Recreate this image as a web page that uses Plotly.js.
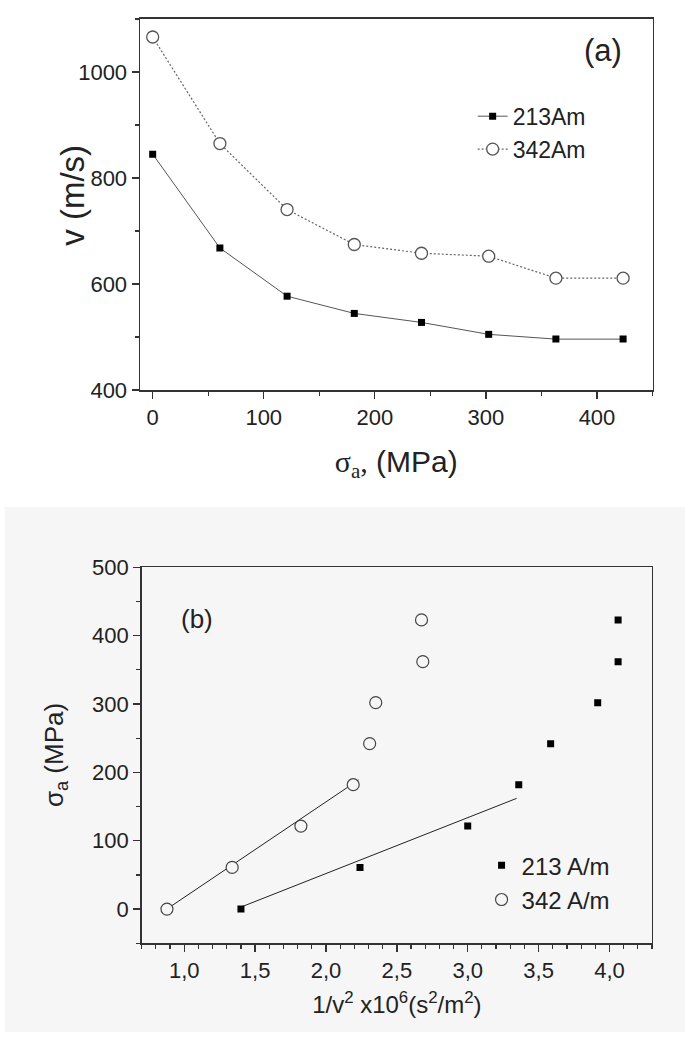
<!DOCTYPE html>
<html>
<head>
<meta charset="utf-8">
<script src="https://cdn.plot.ly/plotly-3.0.1.min.js"></script>
<style>
  html, body { margin: 0; padding: 0; background: #ffffff; }
  #chart { width: 685px; height: 1041px; }
</style>
</head>
<body>
<div id="chart"></div>
<script>
// ---------- Panel (a): velocity vs applied stress ----------
const stressA = [0, 60.5, 121, 181.5, 242, 302.5, 363, 423.5];
const v213 = [845, 668, 577, 544.5, 527.5, 505, 496, 496];
const v342 = [1066, 865, 740.5, 674.5, 658, 652.5, 611, 611];
const seriesNamesA = ['213Am', '342Am'];

// ---------- Panel (b): stress vs 1/v^2 ----------
const stressB = [0, 61, 121.5, 182, 242, 302, 362, 423];
const invV2_213 = [1.40, 2.24, 3.00, 3.36, 3.585, 3.917, 4.061, 4.061];
const invV2_342 = [0.878, 1.338, 1.823, 2.192, 2.308, 2.351, 2.683, 2.674];
const fit213X = [1.40, 3.345];
const fit213Y = [3, 162];
const fit342X = [0.88, 2.23];
const fit342Y = [0.5, 189];
const seriesNamesB = ['213 A/m', '342 A/m'];
const tickValsB = [1.0, 1.5, 2.0, 2.5, 3.0, 3.5, 4.0];
const tickTextB = ['1,0', '1,5', '2,0', '2,5', '3,0', '3,5', '4,0'];

const FONT = 'Arial, "Liberation Sans", Helvetica, sans-serif';
const SERIF = 'Liberation Serif, Times New Roman, serif';
const TXT = '#222222';
const AX = '#333333';
const PANEL_B_BG = '#f6f6f6';

const traces = [
  {
    x: stressA, y: v213, xaxis: 'x', yaxis: 'y', name: seriesNamesA[0],
    mode: 'lines+markers', legend: 'legend',
    line: { color: '#555555', width: 1 },
    marker: { symbol: 'square', size: 7, color: '#000000' }
  },
  {
    x: stressA, y: v342, xaxis: 'x', yaxis: 'y', name: seriesNamesA[1],
    mode: 'lines+markers', legend: 'legend',
    line: { color: '#666666', width: 1.2, dash: '2px,2px' },
    marker: { symbol: 'circle', size: 12, color: '#ffffff', line: { color: '#555555', width: 1.3 } }
  },
  {
    x: fit213X, y: fit213Y, xaxis: 'x2', yaxis: 'y2', mode: 'lines', showlegend: false,
    line: { color: '#222222', width: 1 }, hoverinfo: 'skip'
  },
  {
    x: fit342X, y: fit342Y, xaxis: 'x2', yaxis: 'y2', mode: 'lines', showlegend: false,
    line: { color: '#222222', width: 1 }, hoverinfo: 'skip'
  },
  {
    x: invV2_213, y: stressB, xaxis: 'x2', yaxis: 'y2', name: seriesNamesB[0],
    mode: 'markers', legend: 'legend2',
    marker: { symbol: 'square', size: 7, color: '#000000' }
  },
  {
    x: invV2_342, y: stressB, xaxis: 'x2', yaxis: 'y2', name: seriesNamesB[1],
    mode: 'markers', legend: 'legend2',
    marker: { symbol: 'circle', size: 12, color: PANEL_B_BG, line: { color: '#444444', width: 1.2 } }
  }
];

function axisBase() {
  return {
    showline: true, linecolor: AX, linewidth: 1.5, mirror: true,
    showgrid: false, zeroline: false,
    ticks: 'outside', ticklen: 7, tickwidth: 1.3, tickcolor: AX,
    tickfont: { family: FONT, size: 22, color: TXT }
  };
}

const layout = {
  width: 685, height: 1041,
  margin: { l: 0, r: 0, t: 0, b: 0 },
  paper_bgcolor: '#ffffff',
  plot_bgcolor: 'rgba(0,0,0,0)',
  font: { family: FONT, color: TXT },
  showlegend: true,
  xaxis: Object.assign(axisBase(), {
    domain: [0.2044, 0.9526], range: [-11.4, 450], anchor: 'y',
    tickmode: 'linear', tick0: 0, dtick: 100,
    minor: { tick0: 0, dtick: 50, ticks: 'outside', ticklen: 4, tickwidth: 1.2, tickcolor: AX },
    title: {
      text: '<span style="font-family:' + SERIF + '">σ<sub>a</sub>,</span> (MPa)',
      font: { family: FONT, size: 30, color: TXT }, standoff: 22
    }
  }),
  yaxis: Object.assign(axisBase(), {
    domain: [0.62536, 0.98175], range: [400, 1100], anchor: 'x',
    tickmode: 'linear', tick0: 400, dtick: 200,
    minor: { tick0: 400, dtick: 100, ticks: 'outside', ticklen: 4, tickwidth: 1.2, tickcolor: AX },
    title: { text: '' }
  }),
  xaxis2: Object.assign(axisBase(), {
    domain: [0.2069, 0.9518], range: [0.7, 4.3], anchor: 'y2',
    tickmode: 'array', tickvals: tickValsB, ticktext: tickTextB,
    minor: { tick0: 0.7, dtick: 0.1, ticks: 'outside', ticklen: 4, tickwidth: 1.2, tickcolor: AX },
    title: {
      text: '1/v<sup>2</sup> x10<sup>6</sup>(s<sup>2</sup>/m<sup>2</sup>)',
      font: { family: FONT, size: 24, color: TXT }, standoff: 14
    }
  }),
  yaxis2: Object.assign(axisBase(), {
    domain: [0.09385, 0.45504], range: [-50, 500], anchor: 'x2',
    tickmode: 'linear', tick0: 0, dtick: 100,
    minor: { tick0: 0, dtick: 50, ticks: 'outside', ticklen: 4, tickwidth: 1.2, tickcolor: AX },
    title: { text: '' }
  }),
  legend: {
    x: 0.69, y: 0.909, xanchor: 'left', yanchor: 'top',
    bgcolor: 'rgba(0,0,0,0)', borderwidth: 0,
    font: { family: FONT, size: 23, color: TXT },
    tracegroupgap: 0
  },
  legend2: {
    x: 0.703, y: 0.19, xanchor: 'left', yanchor: 'top',
    bgcolor: 'rgba(0,0,0,0)', borderwidth: 0,
    font: { family: FONT, size: 24, color: TXT },
    tracegroupgap: 0
  },
  shapes: [
    {
      type: 'rect', xref: 'paper', yref: 'paper', layer: 'below',
      x0: 0.0073, x1: 1.0, y0: 0.00865, y1: 0.5130,
      fillcolor: PANEL_B_BG, line: { width: 0 }
    }
  ],
  annotations: [
    {
      xref: 'paper', yref: 'paper', x: 0.1066, y: 0.812, textangle: -90,
      text: 'v (m/s)', showarrow: false, xanchor: 'center', yanchor: 'middle',
      font: { family: FONT, size: 33, color: TXT }
    },
    {
      xref: 'paper', yref: 'paper', x: 0.0803, y: 0.2747, textangle: -90,
      text: 'σ<sub>a</sub> (MPa)', showarrow: false, xanchor: 'center', yanchor: 'middle',
      font: { family: FONT, size: 26, color: TXT }
    },
    {
      xref: 'x', yref: 'y', x: 405, y: 1041, text: '(a)', showarrow: false,
      font: { family: FONT, size: 31, color: TXT }
    },
    {
      xref: 'x2', yref: 'y2', x: 1.093, y: 425, text: '(b)', showarrow: false,
      font: { family: FONT, size: 26, color: TXT }
    }
  ]
};

Plotly.newPlot('chart', traces, layout, { displayModeBar: false, staticPlot: true });
</script>
</body>
</html>
